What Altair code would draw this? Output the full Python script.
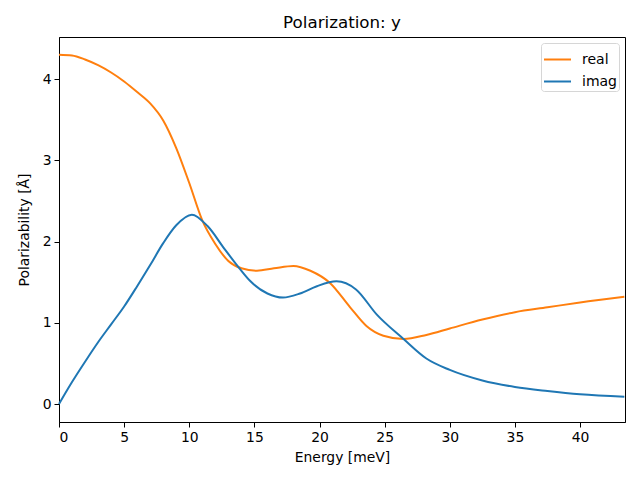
import altair as alt
import pandas as pd

real_x = [0, 1, 2, 3, 4, 5, 6, 7, 8, 9, 10, 11, 12, 13, 14, 15.2, 16.5, 18.0, 19.3, 20.8, 22.35, 23.6, 24.9, 26.45, 28.2, 30, 32.5, 35, 37.5, 40, 43.4]
real_y = [4.30, 4.29, 4.24, 4.17, 4.08, 3.97, 3.84, 3.70, 3.49, 3.15, 2.72, 2.26, 1.97, 1.76, 1.67, 1.64, 1.67, 1.70, 1.64, 1.49, 1.19, 0.96, 0.84, 0.80, 0.85, 0.93, 1.04, 1.13, 1.19, 1.25, 1.32]

imag_x = [0, 1, 2, 3, 4, 5, 6, 7, 8, 9, 10.2, 11.4, 12.7, 13.9, 14.7, 16.0, 17.2, 18.5, 19.8, 21.3, 22.8, 24.4, 26.45, 28.2, 30, 32.5, 35, 37.5, 40, 43.4]
imag_y = [0.0, 0.27, 0.52, 0.76, 0.98, 1.20, 1.45, 1.71, 1.98, 2.20, 2.33, 2.19, 1.91, 1.66, 1.51, 1.36, 1.31, 1.36, 1.45, 1.51, 1.41, 1.10, 0.80, 0.56, 0.42, 0.29, 0.21, 0.16, 0.12, 0.09]

df = pd.concat([
    pd.DataFrame({"energy": real_x, "value": real_y, "series": "real"}),
    pd.DataFrame({"energy": imag_x, "value": imag_y, "series": "imag"}),
])

font = "DejaVu Sans"

chart = alt.Chart(df).mark_line(strokeWidth=2, interpolate="monotone").encode(
    x=alt.X("energy:Q", title="Energy [meV]",
            scale=alt.Scale(domain=[0, 43.45], nice=False, zero=False),
            axis=alt.Axis(values=[0, 5, 10, 15, 20, 25, 30, 35, 40], format="d")),
    y=alt.Y("value:Q", title="Polarizability [Å]",
            scale=alt.Scale(domain=[-0.2215, 4.517], nice=False, zero=False),
            axis=alt.Axis(values=[0, 1, 2, 3, 4], format="d")),
    color=alt.Color("series:N", sort=["real", "imag"],
                    scale=alt.Scale(domain=["real", "imag"], range=["#ff7f0e", "#1f77b4"]),
                    legend=alt.Legend(title=None, orient="top-right", offset=6,
                                      symbolType="stroke", symbolSize=729, symbolStrokeWidth=2,
                                      labelFontSize=14, labelFont=font, padding=2,
                                      rowPadding=-6, cornerRadius=3, labelOffset=10,
                                      strokeColor="#d6d6d6", fillColor="white")),
    order=alt.Order("series:N", sort="descending"),
).properties(
    width=566, height=385,
    title=alt.Title("Polarization: y", fontSize=16.7, font=font, fontWeight="normal", offset=5),
    autosize=alt.AutoSizeParams(type="none"),
    padding={"left": 51, "top": 29, "right": 7, "bottom": 50},
).configure_view(
    stroke="black", strokeWidth=1
).configure_axis(
    grid=False, domainColor="black", tickColor="black", tickSize=5,
    labelFont=font, titleFont=font, labelFontSize=13.9, titleFontSize=13.9,
    labelColor="black", titleColor="black", titleFontWeight="normal",
    labelPadding=3
).configure_axisX(titlePadding=7).configure_axisY(titlePadding=11)

chart.save("out.html", embed_options={"renderer": "svg", "actions": False})
